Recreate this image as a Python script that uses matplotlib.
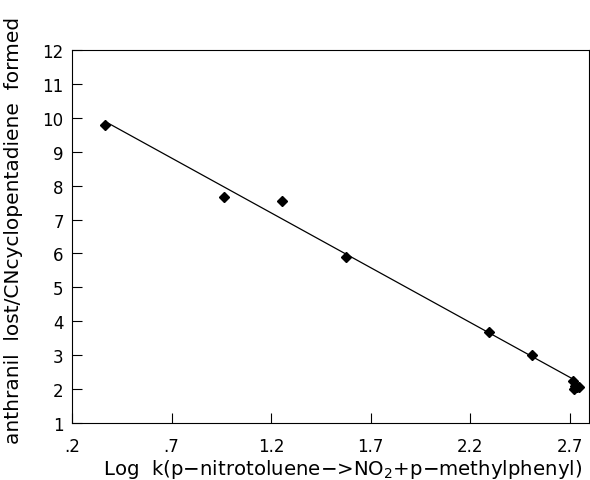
import numpy as np
import matplotlib.pyplot as plt

# measured points
log_k = [0.366, 0.963, 1.254, 1.575, 2.293, 2.509, 2.715, 2.725, 2.735, 2.72, 2.745]
ratio = [9.78, 7.66, 7.55, 5.89, 3.68, 3.0, 2.25, 2.1, 2.05, 2.0, 2.05]

# fitted line endpoints
fit_x = [0.37, 2.72]
fit_y = [9.88, 2.28]

xticks = [0.2, 0.7, 1.2, 1.7, 2.2, 2.7]
xtick_labels = ['.2', '.7', '1.2', '1.7', '2.2', '2.7']
yticks = list(range(1, 13))

plt.rcParams['font.family'] = ['DejaVu Sans']

fig = plt.figure(figsize=(5.9, 4.81), dpi=100)
ax = fig.add_axes([72 / 590, 1 - 424 / 481, (589 - 72) / 590, (424 - 51) / 481])

ax.plot(fit_x, fit_y, color='black', lw=0.9)
ax.plot(log_k, ratio, 'D', color='black', ms=5.5)

ax.set_xlim(0.2, 0.2 + (589 - 72) / 199.2)
ax.set_ylim(1, 12)
ax.set_xticks(xticks)
ax.set_xticklabels(xtick_labels)
ax.set_yticks(yticks)

ax.tick_params(direction='in', length=7, width=0.8, labelsize=12, pad=6)
ax.tick_params(axis='x', pad=10)
for s in ax.spines.values():
    s.set_linewidth(0.8)

ax.set_xlabel('Log  k(p\u2212nitrotoluene\u2212>NO$_2$+p\u2212methylphenyl)', fontsize=14.2)
ax.xaxis.set_label_coords(0.524, -0.09)
ax.set_ylabel('anthranil  lost/CNcyclopentadiene  formed', fontsize=14.5)
ax.yaxis.set_label_coords(-0.095, 0.52)

fig.savefig('out.png', dpi=100)
